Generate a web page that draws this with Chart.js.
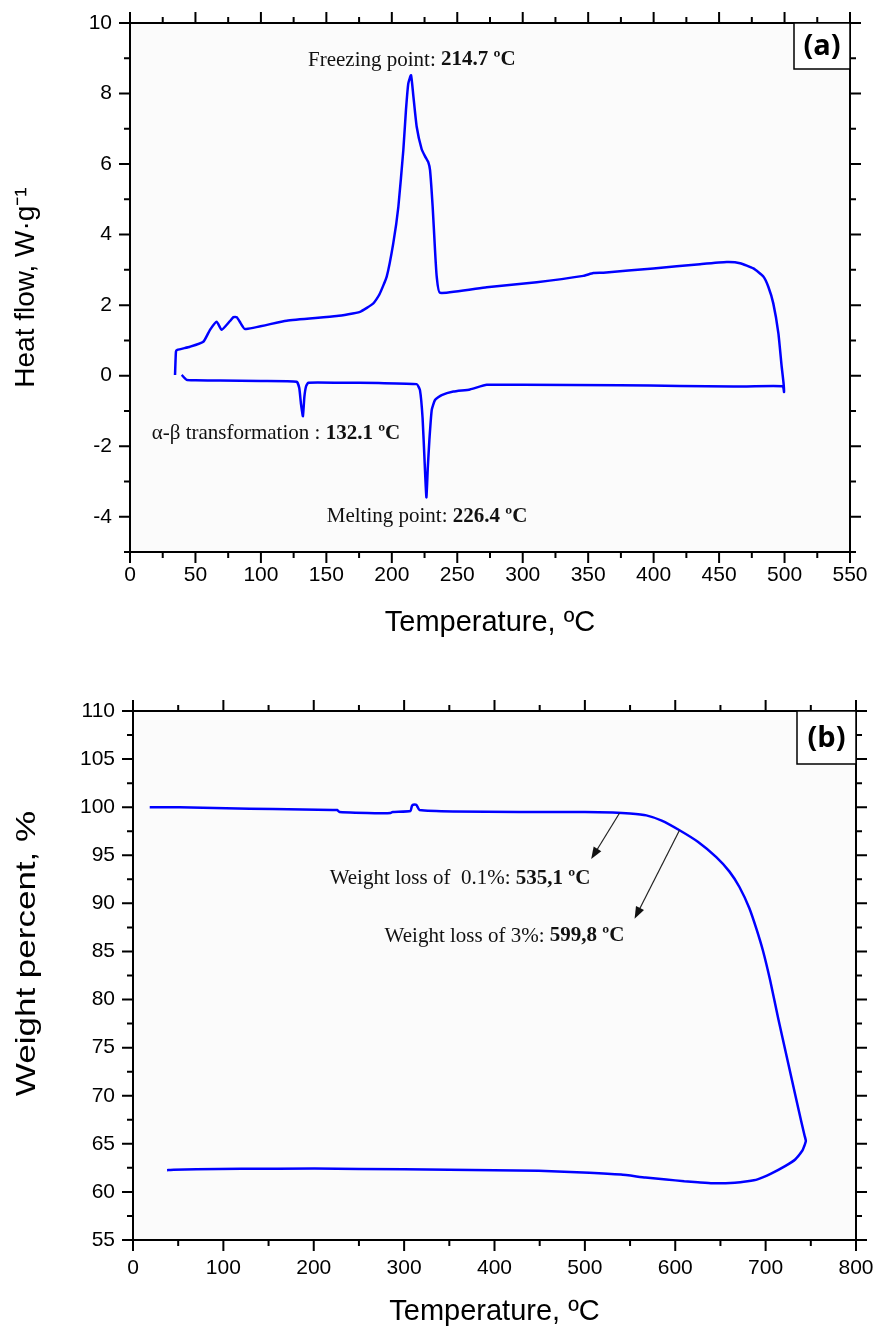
<!DOCTYPE html>
<html>
<head>
<meta charset="utf-8">
<title>DSC / TGA</title>
<script src="https://cdn.jsdelivr.net/npm/chart.js@4.4.1/dist/chart.umd.min.js"></script>
<style>
  html, body { margin: 0; padding: 0; background: #fff; }
  body { width: 878px; height: 1326px; position: relative; overflow: hidden; }
  canvas { position: absolute; left: 0; }
  #dscChart { top: 0; }
  #tgaChart { top: 655px; }
</style>
</head>
<body>
<canvas id="dscChart" width="878" height="650"></canvas>
<canvas id="tgaChart" width="878" height="671"></canvas>
<script>
// (a) DSC - heating run 40 -> 500 C, then cooling run back down to 35 C
const dscTemp = [
  39.5, 43.3, 50, 68.8, 100, 127.3, 129.3, 130.6, 132.1, 133.2, 134.5, 136.2,
  160, 190, 219, 221.5, 223.5, 225, 226.4, 227.5, 228.7, 230.5, 233, 238.1,
  247, 259.7, 272.5, 300, 374.3, 420, 460.9, 498.6, 499.6,
  499.2, 497.8, 495.3, 491.4, 487.6, 483.8, 476.2, 466, 455.8, 435.4, 399.8,
  361.6, 353.9, 346.3, 310.7, 272.5, 236.8, 234.3, 233, 231.2, 229.2, 227.9,
  225.4, 222.8, 219, 216.4, 214.7, 212.6, 210.8, 208.8, 205, 201.1, 196.1,
  190.5, 185.9, 175.7, 157.9, 119.7, 87.9, 84.5, 81.5, 79, 76.4, 70, 66.2,
  61.1, 56, 45.8, 36.1, 35.1, 34.4,
];
const dscHeat = [
  0.02, -0.12, -0.13, -0.14, -0.15, -0.17, -0.35, -0.8, -1.15, -0.6, -0.3, -0.2,
  -0.2, -0.21, -0.24, -0.41, -1.2, -2.4, -3.45, -2.6, -1.82, -0.97, -0.69, -0.55,
  -0.45, -0.39, -0.26, -0.26, -0.27, -0.29, -0.31, -0.3, -0.46,
  -0.2, 0.26, 1.2, 2.05, 2.52, 2.81, 3.04, 3.19, 3.22, 3.16, 3.04,
  2.92, 2.91, 2.83, 2.65, 2.51, 2.35, 2.81, 3.56, 4.79, 5.83, 6.05,
  6.22, 6.42, 7.06, 7.95, 8.52, 8.29, 7.53, 6.4, 4.79, 3.75, 2.81,
  2.3, 2.05, 1.81, 1.69, 1.56, 1.32, 1.49, 1.66, 1.66, 1.55, 1.3, 1.53,
  1.3, 0.96, 0.82, 0.73, 0.68, 0.02,
];
const dscXTicks = [0, 50, 100, 150, 200, 250, 300, 350, 400, 450, 500, 550];
const dscYTicks = [-4, -2, 0, 2, 4, 6, 8, 10];

// (b) TGA - heating up to ~745 C, then cooling back
const tgaTemp = [
  18.5, 51.6, 103, 154.8, 221, 226, 228.4, 276.3, 285, 287.4, 307, 308.5, 310,
  313.5, 315, 316.9, 354, 427.5, 500, 531, 550, 568, 585, 604.7, 625, 645.4,
  660, 671, 682, 690, 697, 705, 714, 723.5, 733, 739.5, 743, 744.5,
  742.5, 740.7, 733, 722, 706, 691, 680, 666, 641, 625, 610, 590, 567, 540, 505,
  449, 399.5, 300, 200.5, 120, 70, 45, 37.7,
];
const tgaWeight = [
  100.0, 100.0, 99.9, 99.8, 99.7, 99.7, 99.5, 99.36, 99.4, 99.5, 99.6, 100.1, 100.25,
  100.25, 100.0, 99.7, 99.55, 99.5, 99.5, 99.45, 99.35, 99.15, 98.6, 97.6, 96.4, 94.8,
  93.3, 91.7, 89.5, 87.3, 85.1, 82, 78, 74, 70, 67.3, 65.9, 65.3,
  64.7, 64.3, 63.4, 62.7, 61.9, 61.3, 61.1, 60.95, 60.9, 61.0, 61.1, 61.3, 61.5, 61.8, 62.0,
  62.2, 62.26, 62.35, 62.43, 62.4, 62.36, 62.3, 62.26,
];
const tgaXTicks = [0, 100, 200, 300, 400, 500, 600, 700, 800];
const tgaYTicks = [55, 60, 65, 70, 75, 80, 85, 90, 95, 100, 105, 110];

const dscNotes = [
  { x: 136, y: 8.95, text: "Freezing point: ", bold: "214.7 ºC" },
  { x: 16.6, y: -1.63, text: "α-β transformation : ", bold: "132.1 ºC" },
  { x: 150.3, y: -4.0, text: "Melting point: ", bold: "226.4 ºC" },
];
const tgaNotes = [
  { x: 217.6, y: 92.6, text: "Weight loss of  0.1%: ", bold: "535,1 ºC" },
  { x: 278.4, y: 86.6, text: "Weight loss of 3%: ", bold: "599,8 ºC" },
];
const tgaArrows = [
  { from: [538.4, 99.4], to: [507, 94.6] },
  { from: [604.7, 97.6], to: [555, 88.4] },
];

const BLUE = "#0000ff";

const toPoints = (xs, ys) => xs.map((x, i) => ({ x, y: ys[i] }));

function drawArrow(ctx, x1, y1, x2, y2) {
  const ang = Math.atan2(y2 - y1, x2 - x1);
  const len = 12, half = 4.5;
  ctx.strokeStyle = "#222";
  ctx.fillStyle = "#111";
  ctx.lineWidth = 1.2;
  ctx.beginPath();
  ctx.moveTo(x1, y1);
  ctx.lineTo(x2 - Math.cos(ang) * len * 0.8, y2 - Math.sin(ang) * len * 0.8);
  ctx.stroke();
  ctx.beginPath();
  ctx.moveTo(x2, y2);
  ctx.lineTo(x2 - Math.cos(ang) * len - Math.sin(ang) * half, y2 - Math.sin(ang) * len + Math.cos(ang) * half);
  ctx.lineTo(x2 - Math.cos(ang) * len + Math.sin(ang) * half, y2 - Math.sin(ang) * len - Math.cos(ang) * half);
  ctx.closePath();
  ctx.fill();
}

// frame, outward major + minor ticks on all four sides, notes and panel tag
const boxPlugin = {
  id: "box",
  beforeDraw(chart) {
    const { ctx, chartArea: a } = chart;
    ctx.save();
    ctx.fillStyle = "#fbfbfb";
    ctx.fillRect(a.left, a.top, a.right - a.left, a.bottom - a.top);
    ctx.restore();
  },
  afterDraw(chart, args, opts) {
    const { ctx, chartArea: a, scales: { x, y } } = chart;
    ctx.save();
    ctx.strokeStyle = "#000";
    ctx.lineWidth = 2;
    ctx.strokeRect(a.left, a.top, a.right - a.left, a.bottom - a.top);

    ctx.beginPath();
    for (let v = x.min, i = 0; v <= x.max + 1e-9; i++, v = x.min + i * opts.xMinor) {
      const px = x.getPixelForValue(v);
      const len = i % 2 === 0 ? 11 : 6;
      ctx.moveTo(px, a.bottom); ctx.lineTo(px, a.bottom + len);
      ctx.moveTo(px, a.top); ctx.lineTo(px, a.top - len);
    }
    for (let v = y.min, i = 0; v <= y.max + 1e-9; i++, v = y.min + i * opts.yMinor) {
      const py = y.getPixelForValue(v);
      const major = Math.abs(v / opts.yMajor - Math.round(v / opts.yMajor)) < 1e-6;
      const len = major ? 11 : 6;
      ctx.moveTo(a.left, py); ctx.lineTo(a.left - len, py);
      ctx.moveTo(a.right, py); ctx.lineTo(a.right + len, py);
    }
    ctx.stroke();

    // annotations
    ctx.textBaseline = "middle";
    ctx.textAlign = "left";
    ctx.fillStyle = "#111";
    (opts.notes || []).forEach((n) => {
      const px = x.getPixelForValue(n.x);
      const py = y.getPixelForValue(n.y);
      ctx.font = "21px 'Liberation Serif'";
      ctx.fillText(n.text, px, py);
      const w = ctx.measureText(n.text).width;
      ctx.font = "bold 21px 'Liberation Serif'";
      ctx.fillText(n.bold, px + w, py);
    });
    (opts.arrows || []).forEach((r) => {
      drawArrow(ctx,
        x.getPixelForValue(r.from[0]), y.getPixelForValue(r.from[1]),
        x.getPixelForValue(r.to[0]), y.getPixelForValue(r.to[1]));
    });

    // y title drawn by hand when it has to be stretched along its length
    if (opts.yLabel) {
      const t = opts.yLabel;
      ctx.save();
      ctx.translate(t.x, (a.top + a.bottom) / 2 + t.shift);
      ctx.rotate(-Math.PI / 2);
      ctx.scale(t.stretch, 1);
      ctx.fillStyle = "#000";
      ctx.font = "28px 'Liberation Sans'";
      ctx.textAlign = "center";
      ctx.textBaseline = "middle";
      ctx.fillText(t.text, 0, 0);
      ctx.restore();
    }

    // panel tag box
    const bw = opts.tagW, bh = opts.tagH;
    ctx.fillStyle = "#fff";
    ctx.fillRect(a.right - bw, a.top, bw, bh);
    ctx.strokeStyle = "#000";
    ctx.lineWidth = 1.5;
    ctx.strokeRect(a.right - bw, a.top, bw, bh);
    ctx.fillStyle = "#000";
    ctx.font = "bold 29px 'Open Sans'";
    ctx.textAlign = "center";
    ctx.textBaseline = "middle";
    ctx.fillText(opts.tag, a.right - bw / 2, a.top + bh / 2 + 1);
    ctx.restore();
  },
};

function makeChart(id, cfg) {
  const tickFont = { family: "'Liberation Sans'", size: 21 };
  return new Chart(document.getElementById(id), {
    type: "scatter",
    data: {
      datasets: [{
        data: toPoints(cfg.xs, cfg.ys),
        showLine: true,
        borderColor: BLUE,
        borderWidth: 2.5,
        pointRadius: 0,
        tension: 0.15,
      }],
    },
    plugins: [boxPlugin],
    options: {
      responsive: false,
      animation: false,
      layout: { padding: cfg.padding },
      plugins: {
        legend: { display: false },
        tooltip: { enabled: false },
        box: cfg.box,
      },
      scales: {
        x: {
          type: "linear",
          min: cfg.xTicks[0],
          max: cfg.xTicks[cfg.xTicks.length - 1],
          afterBuildTicks: (s) => { s.ticks = cfg.xTicks.map((v) => ({ value: v })); },
          afterFit: (s) => { s.height = cfg.xHeight; s.paddingLeft = 0; s.paddingRight = 0; },
          grid: { display: false, drawTicks: false },
          border: { display: false },
          ticks: { font: tickFont, color: "#000", padding: cfg.xPad, maxRotation: 0 },
          title: {
            display: true,
            text: "Temperature, ºC",
            color: "#000",
            font: { family: "'Liberation Sans'", size: 29, lineHeight: 1 },
            padding: { top: 0, bottom: cfg.xTitlePad },
          },
        },
        y: {
          type: "linear",
          min: cfg.yMin,
          max: cfg.yTicks[cfg.yTicks.length - 1],
          afterBuildTicks: (s) => { s.ticks = cfg.yTicks.map((v) => ({ value: v })); },
          afterFit: (s) => { s.width = cfg.yWidth; s.paddingTop = 0; s.paddingBottom = 0; },
          grid: { display: false, drawTicks: false },
          border: { display: false },
          ticks: { font: tickFont, color: "#000", padding: 18 },
          title: {
            display: !!cfg.yTitle,
            text: cfg.yTitle,
            color: "#000",
            font: { family: "'Liberation Sans'", size: 28, lineHeight: 1 },
            padding: { top: cfg.yTitlePad, bottom: 0 },
          },
        },
      },
    },
  });
}

document.addEventListener("DOMContentLoaded", () => {
  makeChart("dscChart", {
    xs: dscTemp, ys: dscHeat,
    xTicks: dscXTicks, yTicks: dscYTicks, yMin: -5,
    yTitle: "Heat flow, W·g⁻¹",
    padding: { top: 23, right: 28, left: 0, bottom: 0 },
    xHeight: 98, yWidth: 130, xPad: 11, xTitlePad: 13, yTitlePad: 12,
    box: { xMinor: 25, yMinor: 1, yMajor: 2, notes: dscNotes, arrows: [], tag: "(a)", tagW: 56, tagH: 46 },
  });
  makeChart("tgaChart", {
    xs: tgaTemp, ys: tgaWeight,
    xTicks: tgaXTicks, yTicks: tgaYTicks, yMin: 55,
    yTitle: "",
    padding: { top: 56, right: 22, left: 0, bottom: 0 },
    xHeight: 86, yWidth: 133, xPad: 16, xTitlePad: 0, yTitlePad: 13,
    box: {
      xMinor: 50, yMinor: 2.5, yMajor: 5, notes: tgaNotes, arrows: tgaArrows,
      tag: "(b)", tagW: 59, tagH: 53,
      yLabel: { text: "Weight percent, %", x: 27, shift: -22, stretch: 1.25 },
    },
  });
});
</script>
</body>
</html>
